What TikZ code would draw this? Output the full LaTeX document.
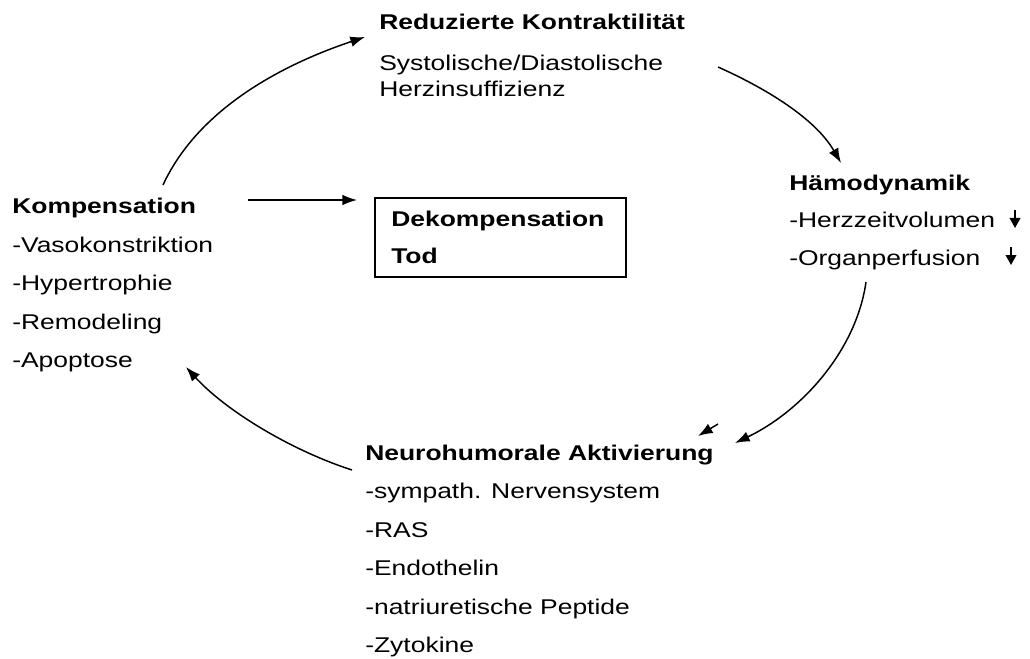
\documentclass[tikz,border=0pt]{standalone}
\usepackage{fontspec}
\setmainfont{Liberation Sans}[FakeStretch=1.24]
\usetikzlibrary{arrows.meta}
\begin{document}
\begin{tikzpicture}[x=0.75pt,y=-0.75pt,
  txt/.style={anchor=base west,inner sep=0pt,font=\fontsize{16}{19}\selectfont},
  btxt/.style={txt,font=\fontsize{16}{19}\selectfont\bfseries},
  conn/.style={line width=1.1pt,-{Latex[length=11pt,width=8pt]}},
  down/.style={line width=1.2pt,-{Triangle[length=7.5pt,width=8pt]}}]
\path[use as bounding box] (0,0) rectangle (1030,659);
% top block
\node[btxt] (red) at (379,30) {Reduzierte Kontraktilität};
\node[txt] (sys) at (379,71) {Systolische/Diastolische};
\node[txt] (herz) at (379,97) {Herzinsuffizienz};
% right block
\node[btxt] (haem) at (789,191) {Hämodynamik};
\node[txt] (hzv) at (789,228) {-Herzzeitvolumen};
\node[txt] (org) at (789,265) {-Organperfusion};
\coordinate (d1s) at (1015,210);
\coordinate (d1e) at (1015,228);
\coordinate (d2s) at (1011,247);
\coordinate (d2e) at (1011,265);
\draw[down] (d1s) -- (d1e);
\draw[down] (d2s) -- (d2e);
% left block
\node[btxt] (komp) at (12,214) {Kompensation};
\node[txt] (k1) at (12,252) {-Vasokonstriktion};
\node[txt] (k2) at (12,290) {-Hypertrophie};
\node[txt] (k3) at (12,329) {-Remodeling};
\node[txt] (k4) at (12,367) {-Apoptose};
% box
\node[draw,line width=1.1pt,minimum width=188.25pt,minimum height=59.25pt,inner sep=0pt] (box) at (500.5,237.5) {};
\node[btxt] (dek) at (391,227) {Dekompensation};
\node[btxt] (tod) at (391,263) {Tod};
% bottom block
\node[btxt] (neuro) at (365,460) {Neurohumorale Aktivierung};
\node[txt] (n1) at (365,498) {-sympath. Nervensystem};
\node[txt] (n2) at (365,537) {-RAS};
\node[txt] (n3) at (365,575) {-Endothelin};
\node[txt] (n4) at (365,614) {-natriuretische Peptide};
\node[txt] (n5) at (365,652) {-Zytokine};
% connector endpoints
\coordinate (a1s) at (163,185);
\coordinate (a1e) at (365,37);
\coordinate (a2s) at (718,67);
\coordinate (a2e) at (841,163);
\coordinate (a3s) at (866,282);
\coordinate (a3e) at (735,443);
\coordinate (a4s) at (352,470);
\coordinate (a4e) at (186,367);
\coordinate (a5s) at (248,200);
\coordinate (a5e) at (357,200);
\coordinate (a6s) at (718,424);
\coordinate (a6e) at (698,436);
\draw[conn] (a1s) .. controls (200,105) and (290,62) .. (a1e);
\draw[conn] (a2s) .. controls (765,88) and (815,118) .. (a2e);
\draw[conn] (a3s) .. controls (856,352) and (800,412) .. (a3e);
\draw[conn] (a4s) .. controls (290,450) and (225,410) .. (a4e);
\draw[conn] (a5s) -- (a5e);
\draw[conn] (a6s) -- (a6e);
\end{tikzpicture}
\end{document}
